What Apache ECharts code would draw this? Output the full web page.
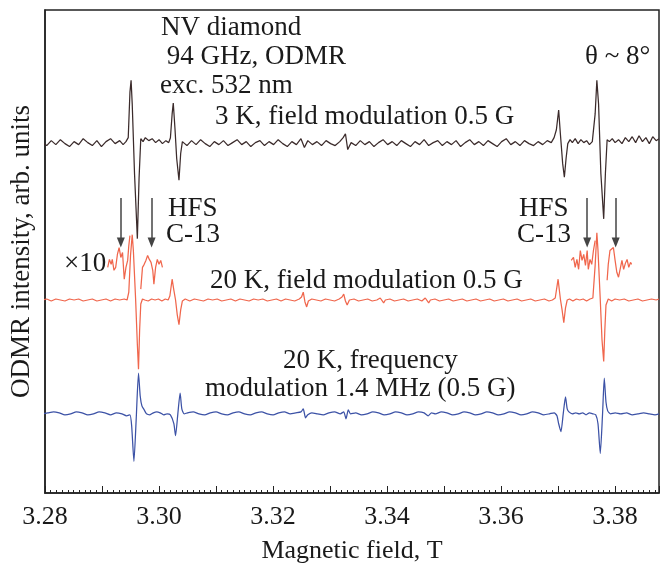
<!DOCTYPE html>
<html><head><meta charset="utf-8">
<script src="https://cdn.jsdelivr.net/npm/echarts@6/dist/echarts.min.js"></script>
<style>html,body{margin:0;padding:0;background:#fff}#c{width:664px;height:569px}</style>
</head><body><div id="c"></div>
<script>
// Magnetic field (T) and relative ODMR intensity (arb. units) for each trace
const trace3K_field = [[3.2795,1],[3.2803,-2],[3.2811,3],[3.2819,-1],[3.2827,4],[3.2835,0],[3.2843,-3],[3.2851,2],[3.2859,-1],[3.2867,5],[3.2875,1],[3.2883,-2],[3.2891,3],[3.2899,-3],[3.2907,2],[3.2915,5],[3.2923,0],[3.2931,3],[3.2937,-1],[3.2942,2],
[3.2946,6],[3.2949,52],[3.2951,64],[3.2953,40],[3.2957,-30],[3.2962,-96],[3.2965,-35],[3.2968,5],[3.2972,2],
[3.2976,6],[3.2982,3],[3.2988,5],[3.2994,1],[3.3000,4],[3.3006,0],[3.3012,3],[3.3017,1],[3.3020,6],
[3.3023,30],[3.3025,41],[3.3028,15],[3.3031,-15],[3.3035,-37],[3.3038,-10],[3.3041,2],[3.3045,0],
[3.3049,-2],[3.3057,3],[3.3065,-1],[3.3073,4],[3.3081,0],[3.3089,-3],[3.3097,2],[3.3105,-1],[3.3113,3],[3.3121,-2],[3.3129,1],[3.3137,4],[3.3145,-1],[3.3153,2],[3.3161,-3],[3.3169,1],[3.3177,3],[3.3185,-2],[3.3193,2],[3.3201,-1],[3.3209,4],[3.3217,0],[3.3225,-3],[3.3233,2],[3.3241,-1],[3.3249,5],[3.3255,-4],[3.3261,3],[3.3269,-1],[3.3277,2],[3.3285,-2],[3.3293,3],[3.3301,0],[3.3309,-2],[3.3317,2],[3.3323,6],[3.3327,10],[3.3331,-6],[3.3337,1],[3.3345,-2],[3.3353,3],[3.3361,-1],[3.3369,2],[3.3377,-3],[3.3385,1],[3.3393,4],[3.3401,-1],[3.3409,2],[3.3417,-2],[3.3425,3],[3.3433,0],[3.3441,-3],[3.3449,2],[3.3457,-1],[3.3465,4],[3.3473,-2],[3.3481,1],[3.3489,3],[3.3497,-2],[3.3505,2],[3.3513,-1],[3.3521,3],[3.3529,-3],[3.3537,1],[3.3545,4],[3.3553,-1],[3.3561,2],[3.3569,-2],[3.3577,3],[3.3585,0],[3.3593,-3],[3.3601,2],[3.3609,5],[3.3617,-1],[3.3625,2],[3.3633,-2],[3.3641,3],[3.3649,0],[3.3657,-2],[3.3665,2],[3.3673,-1],[3.3681,3],[3.3688,1],
[3.3693,6],[3.3697,14],[3.3701,34],[3.3704,10],[3.3708,-20],[3.3711,-34],[3.3714,-15],[3.3717,0],[3.3721,4],
[3.3725,1],[3.3730,5],[3.3735,0],[3.3740,4],[3.3745,1],[3.3750,3],[3.3755,-1],[3.3760,2],[3.3763,4],
[3.3765,30],[3.3768,64],[3.3771,40],[3.3775,-30],[3.3780,-76],[3.3783,-30],[3.3786,4],[3.3790,2],
[3.3795,5],[3.3800,1],[3.3806,4],[3.3812,0],[3.3818,6],[3.3824,2],[3.3830,7],[3.3836,1],[3.3842,8],[3.3848,2],[3.3854,6],[3.3860,0],[3.3866,7],[3.3872,3],[3.3877,5]];

const trace20K_field = [[3.2795,0],[3.2803,1],[3.2811,-1],[3.2819,1],[3.2827,0],[3.2835,-1],[3.2843,1],[3.2851,0],[3.2859,1],[3.2867,-1],[3.2875,0],[3.2883,1],[3.2891,-1],[3.2899,0],[3.2907,1],[3.2915,-1],[3.2923,1],[3.2931,0],[3.2939,1],[3.2944,0],
[3.2947,8],[3.2950,45],[3.2953,66],[3.2955,50],[3.2959,0],[3.2962,-45],[3.2964,-70],[3.2966,-30],[3.2968,-4],[3.2971,1],
[3.2975,0],[3.2981,-1],[3.2987,1],[3.2993,0],[3.2999,1],[3.3005,-1],[3.3011,1],[3.3016,0],
[3.3019,4],[3.3023,21],[3.3026,10],[3.3029,0],[3.3032,-15],[3.3035,-25],[3.3038,-10],[3.3041,-1],
[3.3046,1],[3.3054,-1],[3.3062,1],[3.3070,0],[3.3078,-1],[3.3086,1],[3.3094,0],[3.3102,1],[3.3110,-1],[3.3118,0],[3.3126,1],[3.3134,-1],[3.3142,1],[3.3150,0],[3.3158,-1],[3.3166,1],[3.3174,0],[3.3182,1],[3.3190,-1],[3.3198,0],[3.3206,1],[3.3214,-1],[3.3222,1],[3.3230,0],[3.3238,-1],[3.3246,1],
[3.3250,3],[3.3253,8],[3.3256,-2],[3.3259,-7],[3.3262,-1],[3.3268,1],[3.3276,0],[3.3284,-1],[3.3292,1],[3.3300,0],[3.3308,-1],[3.3316,1],
[3.3321,3],[3.3324,6],[3.3327,-1],[3.3330,-5],[3.3334,0],[3.3342,1],[3.3350,-1],[3.3358,0],[3.3366,1],[3.3374,-1],[3.3382,0],
[3.3388,2],[3.3391,4],[3.3394,-3],[3.3397,0],[3.3405,1],[3.3413,-1],[3.3421,0],[3.3429,1],[3.3437,-1],[3.3445,0],[3.3453,1],[3.3461,-1],
[3.3467,2],[3.3470,4],[3.3473,-3],[3.3476,0],[3.3484,1],[3.3492,-1],[3.3500,0],[3.3508,1],[3.3516,-1],[3.3524,0],[3.3532,1],[3.3540,-1],[3.3548,0],[3.3556,1],[3.3564,-1],[3.3572,0],[3.3580,1],[3.3588,-1],[3.3596,0],[3.3604,1],[3.3612,-1],[3.3620,0],[3.3628,1],[3.3636,-1],[3.3644,0],[3.3652,1],[3.3660,-1],[3.3668,0],[3.3676,1],[3.3684,-1],[3.3690,0],
[3.3695,2],[3.3700,21],[3.3704,1],[3.3707,-10],[3.3710,-23],[3.3713,-8],[3.3716,0],[3.3720,1],
[3.3726,-1],[3.3732,1],[3.3738,0],[3.3744,1],[3.3750,-1],[3.3756,1],[3.3761,2],
[3.3765,35],[3.3768,68],[3.3770,50],[3.3774,0],[3.3777,-40],[3.3780,-62],[3.3782,-30],[3.3784,-5],[3.3788,1],
[3.3794,-1],[3.3800,1],[3.3808,0],[3.3816,1],[3.3824,-1],[3.3832,0],[3.3840,1],[3.3848,-1],[3.3856,0],[3.3864,1],[3.3872,0],[3.3877,1]];

// x10 magnified HFS regions of the 20 K field-modulation trace
const x10_leftA = [[3.2910,33],[3.2913,41],[3.2916,36],[3.2918,41],[3.2921,30],[3.2924,33],[3.2927,46],[3.2930,53],[3.2933,43],[3.2936,48],[3.2939,21],[3.2942,33],[3.2945,40],[3.2947,55],[3.2949,65]];
const x10_leftB = [[3.2968,11],[3.2971,33],[3.2974,36],[3.2977,40],[3.2980,45],[3.2983,41],[3.2986,38],[3.2989,30],[3.2991,16],[3.2994,33],[3.2997,41],[3.3000,36],[3.3003,40],[3.3006,33]];
const x10_rightA = [[3.3723,40],[3.3727,43],[3.3730,33],[3.3733,41],[3.3736,31],[3.3739,50],[3.3742,40],[3.3745,46],[3.3748,35],[3.3751,50],[3.3753,31],[3.3756,41],[3.3759,36],[3.3762,50],[3.3765,60]];
const x10_rightB = [[3.3786,20],[3.3788,36],[3.3791,50],[3.3794,48],[3.3797,53],[3.3800,40],[3.3803,28],[3.3806,23],[3.3809,25],[3.3812,40],[3.3815,31],[3.3818,37],[3.3821,41],[3.3824,33],[3.3827,38],[3.3829,36]];

const freqMod20K_field = [[3.2795,0],[3.2805,1],[3.2815,2],[3.2825,1],[3.2835,-1],[3.2845,0],[3.2855,2],[3.2865,1],[3.2875,-1],[3.2885,0],[3.2895,2],[3.2905,1],[3.2915,-1],[3.2925,1],[3.2935,0],[3.2943,-2],[3.2949,-1],
[3.2952,-12],[3.2956,-48],[3.2960,-5],[3.2964,41],[3.2967,18],[3.2970,8],[3.2974,4],[3.2978,0],[3.2984,-1],[3.2990,1],[3.2996,2],[3.3002,1],[3.3008,-1],[3.3014,0],[3.3020,-1],
[3.3026,-10],[3.3029,-22],[3.3033,0],[3.3037,21],[3.3040,5],[3.3044,0],
[3.3050,1],[3.3060,2],[3.3070,0],[3.3080,-1],[3.3090,1],[3.3100,2],[3.3110,0],[3.3120,-1],[3.3130,1],[3.3140,2],[3.3150,0],[3.3160,-1],[3.3170,1],[3.3180,2],[3.3190,0],[3.3200,-1],[3.3210,1],[3.3220,2],[3.3230,0],[3.3240,1],[3.3249,2],
[3.3253,5],[3.3257,-4],[3.3261,-1],[3.3268,1],[3.3278,0],[3.3288,-1],[3.3298,1],[3.3308,2],[3.3318,0],[3.3324,2],[3.3328,-5],[3.3332,4],[3.3336,0],
[3.3345,1],[3.3355,-1],[3.3365,0],[3.3375,2],[3.3385,1],[3.3395,-1],[3.3405,0],[3.3415,2],[3.3425,1],[3.3435,-1],[3.3445,0],[3.3455,2],[3.3465,1],[3.3472,-2],[3.3478,1],[3.3485,0],[3.3495,2],[3.3505,1],[3.3515,-1],[3.3525,0],[3.3535,2],[3.3545,1],[3.3555,-1],[3.3565,0],[3.3575,2],[3.3585,1],[3.3595,-1],[3.3605,0],[3.3615,2],[3.3625,1],[3.3635,-1],[3.3645,0],[3.3655,2],[3.3665,1],[3.3675,-1],[3.3685,0],[3.3693,1],
[3.3698,-2],[3.3701,-10],[3.3705,-18],[3.3709,0],[3.3713,17],[3.3716,5],[3.3719,2],[3.3725,0],[3.3731,1],[3.3737,0],[3.3743,1],[3.3749,-1],[3.3755,1],[3.3761,0],[3.3766,-1],
[3.3770,-10],[3.3774,-40],[3.3778,0],[3.3781,36],[3.3784,12],[3.3787,3],[3.3792,0],
[3.3800,1],[3.3810,0],[3.3820,1],[3.3830,-1],[3.3840,0],[3.3850,1],[3.3860,0],[3.3870,-1],[3.3877,0]];

// vertical offsets of the stacked traces
const offset3K = 353, offset20K = 195, offsetFreq = 80;
// HFS C-13 arrow positions (field, T)
const hfsArrows = [3.2933, 3.2987, 3.3751, 3.3801];
const arrowTop = 298, arrowTip = 253;
const tickLabels = ['3.28','3.30','3.32','3.34','3.36','3.38'];

const shift = (arr, off) => arr.map(p => [p[0], p[1] + off]);
const FONT = '"Liberation Serif", "Times New Roman", serif';
const chart = echarts.init(document.getElementById('c'), null, {renderer: 'canvas'});

const lineSeries = (data, color, z, smooth) => ({
  type: 'line', data, showSymbol: false, symbol: 'none', smooth: smooth || false, z,
  lineStyle: {color, width: 1.25}, animation: false, silent: true
});

const texts = [
  ['NV diamond', 161, 29],
  [' 94 GHz, ODMR', 160, 58],
  ['exc. 532 nm', 160, 87],
  ['3 K, field modulation 0.5 G', 215, 118],
  ['θ ~ 8°', 585, 58],
  ['HFS', 168, 210], ['C-13', 166, 236],
  ['HFS', 519, 210], ['C-13', 517, 236],
  ['×10', 64, 265],
  ['20 K, field modulation 0.5 G', 210, 282],
  ['20 K, frequency', 283, 362],
  ['modulation 1.4 MHz (0.5 G)', 205, 390]
];

chart.setOption({
  animation: false,
  backgroundColor: '#fff',
  grid: {left: 44, right: 5, top: 10, bottom: 71, show: true, borderColor: '#222', borderWidth: 1.5, backgroundColor: 'transparent'},
  xAxis: {
    type: 'value', min: 3.28, max: 3.3877, interval: 0.01,
    name: 'Magnetic field, T', nameLocation: 'middle', nameGap: 45,
    nameTextStyle: {fontFamily: FONT, fontSize: 26, color: '#1a1a1a'},
    axisLine: {show: true, lineStyle: {color: '#222', width: 1.5}},
    axisTick: {show: true, inside: true, length: 7, lineStyle: {color: '#222', width: 1}},
    minorTick: {show: true, splitNumber: 10, length: 3, lineStyle: {color: '#222', width: 1}},
    axisLabel: {fontFamily: FONT, fontSize: 26, color: '#1a1a1a', margin: 11,
      formatter: v => { const s = v.toFixed(2); return (tickLabels.includes(s) && Math.abs(v - parseFloat(s)) < 1e-6) ? s : ''; }},
    splitLine: {show: false}
  },
  yAxis: {
    type: 'value', min: 0, max: 488,
    name: 'ODMR intensity, arb. units', nameLocation: 'middle', nameGap: 10,
    nameTextStyle: {fontFamily: FONT, fontSize: 27, color: '#1a1a1a'},
    axisLine: {show: true, lineStyle: {color: '#222', width: 1.5}},
    axisTick: {show: false}, axisLabel: {show: false}, splitLine: {show: false}
  },
  series: [
    lineSeries(shift(trace3K_field, offset3K), '#3b2b2b', 3),
    lineSeries(shift(trace20K_field, offset20K), '#f0664c', 2),
    lineSeries(shift(x10_leftA, offset20K), '#f0664c', 2),
    lineSeries(shift(x10_leftB, offset20K), '#f0664c', 2),
    lineSeries(shift(x10_rightA, offset20K), '#f0664c', 2),
    lineSeries(shift(x10_rightB, offset20K), '#f0664c', 2),
    lineSeries(shift(freqMod20K_field, offsetFreq), '#3c52a6', 1, 0.2),
    {
      type: 'line', data: [], silent: true, z: 5,
      markLine: {
        silent: true, animation: false, symbol: ['none', 'triangle'], symbolSize: [8, 10],
        label: {show: false},
        lineStyle: {color: '#444', width: 1.5, type: 'solid'},
        data: hfsArrows.map(b => [{coord: [b, arrowTop]}, {coord: [b, arrowTip]}])
      }
    }
  ],
  graphic: texts.map(t => ({
    type: 'text', left: t[1], top: t[2] - 15, silent: true,
    style: {text: t[0], font: '27px ' + FONT, fill: '#1a1a1a'}
  }))
});
</script>
</body></html>
